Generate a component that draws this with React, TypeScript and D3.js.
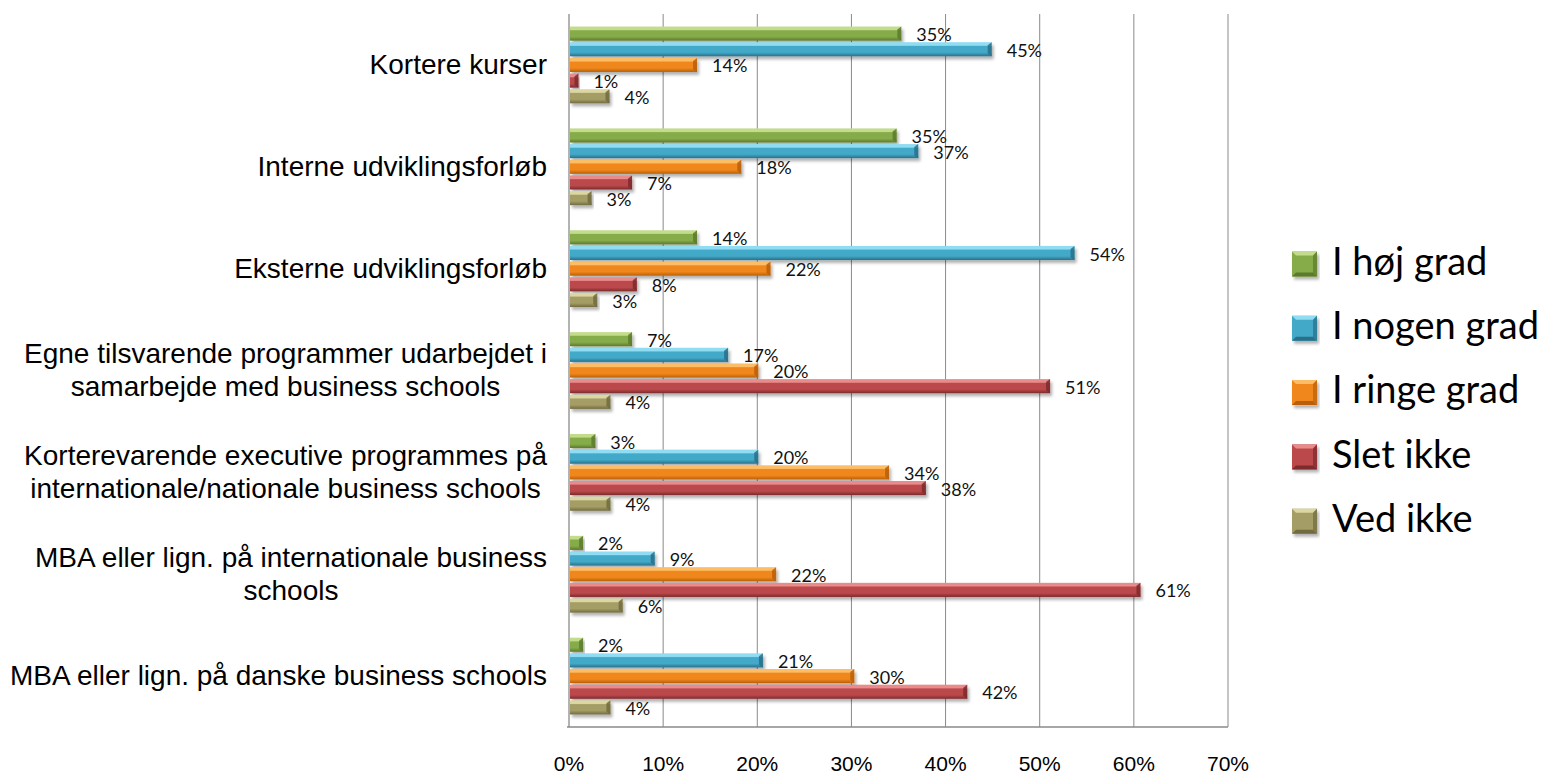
import * as d3 from "d3";
import React, { useRef, useEffect } from "react";

const categories = [
  "Kortere kurser",
  "Interne udviklingsforløb",
  "Eksterne udviklingsforløb",
  "Egne tilsvarende programmer udarbejdet i|samarbejde med business schools",
  "Korterevarende executive programmes på|internationale/nationale business schools",
  "MBA eller lign. på internationale business|schools",
  "MBA eller lign. på danske business schools",
];

const seriesNames = ["I høj grad", "I nogen grad", "I ringe grad", "Slet ikke", "Ved ikke"];

// per category, in series order (fractions)
const hoejGrad = [0.353, 0.348, 0.136, 0.067, 0.028, 0.015, 0.015];
const nogenGrad = [0.449, 0.371, 0.537, 0.169, 0.201, 0.091, 0.206];
const ringeGrad = [0.136, 0.183, 0.214, 0.201, 0.34, 0.22, 0.303];
const sletIkke = [0.01, 0.067, 0.072, 0.511, 0.379, 0.607, 0.423];
const vedIkke = [0.043, 0.024, 0.03, 0.044, 0.044, 0.057, 0.044];

const labelHoej = ["35%", "35%", "14%", "7%", "3%", "2%", "2%"];
const labelNogen = ["45%", "37%", "54%", "17%", "20%", "9%", "21%"];
const labelRinge = ["14%", "18%", "22%", "20%", "34%", "22%", "30%"];
const labelSlet = ["1%", "7%", "8%", "51%", "38%", "61%", "42%"];
const labelVed = ["4%", "3%", "3%", "4%", "4%", "6%", "4%"];

const xTicks = [0, 0.1, 0.2, 0.3, 0.4, 0.5, 0.6, 0.7];

const palette = [
  { light: "#c2dc8c", mid: "#86ab4a", dark: "#5b7a2c" },
  { light: "#8fdcf3", mid: "#42a9c9", dark: "#2a6f87" },
  { light: "#fdbd66", mid: "#f0871c", dark: "#b95f0b" },
  { light: "#ea8b8b", mid: "#bb4a4c", dark: "#7c2a2c" },
  { light: "#dcd6a2", mid: "#a49d66", dark: "#716b3f" },
];

const App: React.FC = () => {
  const ref = useRef<SVGSVGElement>(null);

  useEffect(() => {
    const svg = d3.select(ref.current as SVGSVGElement);
    svg.selectAll("*").remove();

    const values = [hoejGrad, nogenGrad, ringeGrad, sletIkke, vedIkke];
    const labels = [labelHoej, labelNogen, labelRinge, labelSlet, labelVed];

    const x = d3.scaleLinear([0, 0.7], [569, 1228]);
    const y0 = d3.scaleBand(d3.range(categories.length), [14, 727]);
    const y1 = d3.scaleBand(d3.range(seriesNames.length), [0, y0.bandwidth()])
      .paddingInner(0.1)
      .paddingOuter(0.8);

    const defs = svg.append("defs");
    palette.forEach((c, i) => {
      const g = defs.append("linearGradient").attr("id", "g" + i)
        .attr("x1", 0).attr("y1", 0).attr("x2", 0).attr("y2", 1);
      g.append("stop").attr("offset", "0").attr("stop-color", c.light);
      g.append("stop").attr("offset", "0.22").attr("stop-color", c.light);
      g.append("stop").attr("offset", "0.3").attr("stop-color", c.mid);
      g.append("stop").attr("offset", "0.72").attr("stop-color", c.mid);
      g.append("stop").attr("offset", "1").attr("stop-color", c.dark);
    });
    const f = defs.append("filter").attr("id", "shadow")
      .attr("x", "-5%").attr("y", "-30%").attr("width", "115%").attr("height", "190%");
    f.append("feDropShadow").attr("dx", 2).attr("dy", 3).attr("stdDeviation", 1.6)
      .attr("flood-color", "#000").attr("flood-opacity", 0.3);

    // grid
    const grid = svg.append("g");
    xTicks.forEach((t) => {
      if (t === 0) return;
      grid.append("line").attr("x1", x(t)).attr("x2", x(t))
        .attr("y1", 14).attr("y2", 727)
        .attr("stroke", "#8a8a8a").attr("stroke-width", 1);
    });
    grid.append("line").attr("x1", x(0)).attr("x2", x(0)).attr("y1", 14).attr("y2", 727)
      .attr("stroke", "#8a8a8a").attr("stroke-width", 1.3);
    grid.append("line").attr("x1", x(0) - 2).attr("x2", x(0.7)).attr("y1", 727).attr("y2", 727)
      .attr("stroke", "#8a8a8a").attr("stroke-width", 1.3);

    // bars
    const bars = svg.append("g");
    categories.forEach((_, ci) => {
      values.forEach((vals, si) => {
        const yTop = (y0(ci) as number) + (y1(si) as number);
        const h = y1.bandwidth();
        const x0 = x(0) + 1;
        const x1 = x(vals[ci]);
        const c = palette[si];
        const b = bars.append("g");
        b.append("rect").attr("x", x0).attr("y", yTop).attr("width", x1 - x0).attr("height", h)
          .attr("fill", `url(#g${si})`).attr("filter", "url(#shadow)");
        const cap = Math.min(4, (x1 - x0) / 2);
        b.append("polygon")
          .attr("points", `${x1 - cap},${yTop + 3} ${x1},${yTop} ${x1},${yTop + h} ${x1 - cap},${yTop + h - 3}`)
          .attr("fill", c.dark).attr("opacity", 0.85);
        b.append("text")
          .attr("x", x1 + 15).attr("y", yTop + h / 2 + 3)
          .attr("dominant-baseline", "middle")
          .attr("font-family", "Lato, 'Open Sans', sans-serif")
          .attr("font-size", 18).attr("fill", "#111")
          .text(labels[si][ci]);
      });
    });

    // category labels
    const cat = svg.append("g")
      .attr("font-family", "'Liberation Sans', Arial, sans-serif")
      .attr("font-size", 28).attr("fill", "#000");
    categories.forEach((name, ci) => {
      const lines = name.split("|");
      const cy = (y0(ci) as number) + y0.bandwidth() / 2 + 2;
      const lh = 33;
      const t = cat.append("text").attr("text-anchor", "middle").attr("dominant-baseline", "middle");
      const spans = lines.map((ln, li) =>
        t.append("tspan").attr("x", 0).attr("y", cy + (li - (lines.length - 1) / 2) * lh).text(ln)
      );
      let maxW = 0;
      spans.forEach((s) => {
        const w = (s.node() as SVGTSpanElement).getComputedTextLength();
        if (w > maxW) maxW = w;
      });
      spans.forEach((s) => s.attr("x", 547 - maxW / 2));
    });

    // x axis labels
    const ax = svg.append("g")
      .attr("font-family", "'Liberation Sans', Arial, sans-serif")
      .attr("font-size", 21).attr("fill", "#000");
    xTicks.forEach((t) => {
      ax.append("text").attr("x", x(t)).attr("y", 765)
        .attr("text-anchor", "middle").attr("dominant-baseline", "middle")
        .text(d3.format(".0%")(t));
    });

    // legend
    const lg = svg.append("g");
    seriesNames.forEach((name, i) => {
      const cy = 264 + i * 64.3;
      const c = palette[i];
      const s = 25;
      const lx = 1292;
      lg.append("rect").attr("x", lx).attr("y", cy - s / 2).attr("width", s).attr("height", s)
        .attr("fill", c.mid).attr("filter", "url(#shadow)");
      lg.append("polygon")
        .attr("points", `${lx},${cy - s / 2} ${lx + s},${cy - s / 2} ${lx + s - 4},${cy - s / 2 + 4} ${lx + 4},${cy - s / 2 + 4}`)
        .attr("fill", c.light);
      lg.append("polygon")
        .attr("points", `${lx},${cy + s / 2} ${lx + s},${cy + s / 2} ${lx + s - 4},${cy + s / 2 - 4} ${lx + 4},${cy + s / 2 - 4}`)
        .attr("fill", c.dark);
      lg.append("polygon")
        .attr("points", `${lx + s},${cy - s / 2} ${lx + s},${cy + s / 2} ${lx + s - 4},${cy + s / 2 - 4} ${lx + s - 4},${cy - s / 2 + 4}`)
        .attr("fill", c.dark).attr("opacity", 0.7);
      lg.append("text").attr("x", 1332).attr("y", cy + 1)
        .attr("dominant-baseline", "middle")
        .attr("font-family", "Lato, 'Open Sans', sans-serif")
        .attr("font-size", 38).attr("fill", "#000")
        .text(name);
    });
  }, []);

  return (
    <svg
      ref={ref}
      width={1542}
      height={774}
      style={{ position: "absolute", left: 0, top: 0, background: "#fff" }}
    />
  );
};

export default App;
